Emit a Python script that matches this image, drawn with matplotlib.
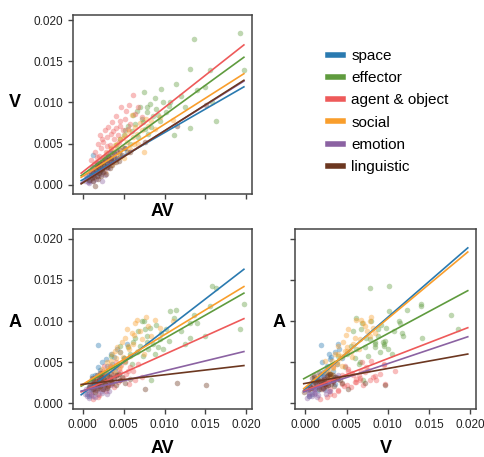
import numpy as np
import matplotlib.pyplot as plt
from matplotlib.lines import Line2D

plt.rcParams['font.family'] = ['Liberation Sans', 'DejaVu Sans']

categories = ['space', 'effector', 'agent & object', 'social', 'emotion', 'linguistic']
colors = ['#2a7ab0', '#5f9b3e', '#ee5a5a', '#f99e2c', '#8b62a2', '#6c3720']

# rows: [AV, V, A]
space = np.array([
    [0.0005, 0.0008, 0.0012], [0.0008, 0.0012, 0.0020], [0.0010, 0.0015, 0.0016],
    [0.0012, 0.0010, 0.0028], [0.0013, 0.0036, 0.0024], [0.0015, 0.0018, 0.0034],
    [0.0017, 0.0022, 0.0018], [0.0018, 0.0019, 0.0071], [0.0020, 0.0014, 0.0030],
    [0.0021, 0.0025, 0.0041], [0.0023, 0.0020, 0.0050], [0.0025, 0.0028, 0.0026],
    [0.0026, 0.0023, 0.0036], [0.0028, 0.0030, 0.0054], [0.0030, 0.0026, 0.0045],
    [0.0032, 0.0034, 0.0032], [0.0034, 0.0029, 0.0060], [0.0036, 0.0038, 0.0048],
    [0.0039, 0.0033, 0.0040], [0.0042, 0.0041, 0.0066], [0.0046, 0.0036, 0.0062],
    [0.0050, 0.0045, 0.0055], [0.0054, 0.0040, 0.0072], [0.0007, 0.0005, 0.0009],
    [0.0024, 0.0017, 0.0022], [0.0011, 0.0021, 0.0033], [0.0019, 0.0027, 0.0044],
    [0.0029, 0.0021, 0.0038], [0.0038, 0.0031, 0.0057], [0.0016, 0.0013, 0.0025],
])

effector = np.array([
    [0.0192, 0.0185, 0.0090], [0.0197, 0.0140, 0.0121], [0.0163, 0.0078, 0.0140],
    [0.0158, 0.0101, 0.0143], [0.0156, 0.0140, 0.0118], [0.0136, 0.0177, 0.0107],
    [0.0131, 0.0141, 0.0080], [0.0131, 0.0069, 0.0098], [0.0149, 0.0119, 0.0082],
    [0.0140, 0.0115, 0.0098], [0.0114, 0.0123, 0.0113], [0.0107, 0.0101, 0.0112],
    [0.0111, 0.0061, 0.0104], [0.0096, 0.0117, 0.0085], [0.0075, 0.0113, 0.0100],
    [0.0072, 0.0080, 0.0100], [0.0084, 0.0070, 0.0029], [0.0050, 0.0060, 0.0055],
    [0.0055, 0.0072, 0.0068], [0.0060, 0.0065, 0.0048], [0.0062, 0.0085, 0.0075],
    [0.0066, 0.0090, 0.0062], [0.0068, 0.0058, 0.0088], [0.0070, 0.0095, 0.0070],
    [0.0074, 0.0076, 0.0058], [0.0078, 0.0088, 0.0082], [0.0080, 0.0062, 0.0066],
    [0.0082, 0.0098, 0.0092], [0.0086, 0.0084, 0.0072], [0.0088, 0.0105, 0.0060],
    [0.0090, 0.0092, 0.0095], [0.0094, 0.0078, 0.0078], [0.0098, 0.0100, 0.0066],
    [0.0102, 0.0088, 0.0090], [0.0106, 0.0096, 0.0076], [0.0120, 0.0108, 0.0088],
    [0.0125, 0.0095, 0.0072], [0.0040, 0.0048, 0.0044], [0.0035, 0.0040, 0.0058],
    [0.0030, 0.0030, 0.0036], [0.0045, 0.0055, 0.0070], [0.0025, 0.0025, 0.0030],
    [0.0058, 0.0050, 0.0060], [0.0064, 0.0074, 0.0080], [0.0076, 0.0068, 0.0090],
    [0.0092, 0.0085, 0.0068], [0.0052, 0.0066, 0.0050], [0.0079, 0.0094, 0.0075],
])

agent = np.array([
    [0.0010, 0.0030, 0.0012], [0.0012, 0.0022, 0.0020], [0.0015, 0.0040, 0.0016],
    [0.0016, 0.0028, 0.0030], [0.0018, 0.0050, 0.0022], [0.0020, 0.0035, 0.0010],
    [0.0021, 0.0061, 0.0026], [0.0022, 0.0045, 0.0034], [0.0024, 0.0030, 0.0018],
    [0.0025, 0.0052, 0.0040], [0.0027, 0.0066, 0.0028], [0.0028, 0.0040, 0.0015],
    [0.0030, 0.0058, 0.0035], [0.0031, 0.0070, 0.0022], [0.0033, 0.0048, 0.0045],
    [0.0034, 0.0062, 0.0030], [0.0036, 0.0076, 0.0041], [0.0038, 0.0055, 0.0020],
    [0.0040, 0.0069, 0.0050], [0.0041, 0.0084, 0.0033], [0.0043, 0.0060, 0.0026],
    [0.0045, 0.0072, 0.0038], [0.0047, 0.0095, 0.0047], [0.0049, 0.0066, 0.0031],
    [0.0051, 0.0080, 0.0052], [0.0053, 0.0090, 0.0036], [0.0056, 0.0097, 0.0024],
    [0.0058, 0.0074, 0.0044], [0.0061, 0.0109, 0.0040], [0.0064, 0.0086, 0.0028],
    [0.0068, 0.0095, 0.0048], [0.0072, 0.0082, 0.0032], [0.0012, 0.0018, 0.0005],
    [0.0019, 0.0026, 0.0008], [0.0026, 0.0034, 0.0046], [0.0035, 0.0044, 0.0024],
    [0.0044, 0.0052, 0.0042], [0.0017, 0.0034, 0.0027], [0.0023, 0.0056, 0.0037],
    [0.0029, 0.0047, 0.0021], [0.0037, 0.0065, 0.0034], [0.0046, 0.0078, 0.0029],
    [0.0055, 0.0068, 0.0039], [0.0014, 0.0025, 0.0023],
])

social = np.array([
    [0.0015, 0.0018, 0.0022], [0.0018, 0.0025, 0.0030], [0.0020, 0.0020, 0.0018],
    [0.0022, 0.0030, 0.0035], [0.0024, 0.0026, 0.0042], [0.0026, 0.0034, 0.0028],
    [0.0028, 0.0022, 0.0038], [0.0030, 0.0038, 0.0050], [0.0032, 0.0030, 0.0033],
    [0.0034, 0.0045, 0.0046], [0.0036, 0.0036, 0.0060], [0.0038, 0.0028, 0.0040],
    [0.0040, 0.0042, 0.0055], [0.0042, 0.0050, 0.0068], [0.0044, 0.0038, 0.0048],
    [0.0046, 0.0055, 0.0062], [0.0048, 0.0046, 0.0075], [0.0050, 0.0032, 0.0052],
    [0.0052, 0.0060, 0.0080], [0.0054, 0.0052, 0.0091], [0.0056, 0.0065, 0.0066],
    [0.0058, 0.0044, 0.0058], [0.0060, 0.0085, 0.0085], [0.0062, 0.0058, 0.0072],
    [0.0064, 0.0070, 0.0098], [0.0066, 0.0062, 0.0101], [0.0068, 0.0050, 0.0064],
    [0.0070, 0.0075, 0.0088], [0.0072, 0.0066, 0.0078], [0.0075, 0.0040, 0.0060],
    [0.0077, 0.0080, 0.0105], [0.0080, 0.0072, 0.0094], [0.0084, 0.0078, 0.0082],
    [0.0088, 0.0068, 0.0101], [0.0095, 0.0082, 0.0092], [0.0110, 0.0079, 0.0100],
    [0.0027, 0.0016, 0.0024], [0.0035, 0.0024, 0.0052], [0.0045, 0.0034, 0.0044],
    [0.0055, 0.0040, 0.0070], [0.0039, 0.0048, 0.0064], [0.0049, 0.0057, 0.0056],
    [0.0031, 0.0033, 0.0043], [0.0063, 0.0049, 0.0083], [0.0041, 0.0031, 0.0036],
])

emotion = np.array([
    [0.0003, 0.0004, 0.0012], [0.0005, 0.0008, 0.0009], [0.0006, 0.0003, 0.0016],
    [0.0008, 0.0012, 0.0013], [0.0009, 0.0006, 0.0020], [0.0010, 0.0015, 0.0010],
    [0.0011, 0.0009, 0.0017], [0.0012, 0.0018, 0.0023], [0.0013, 0.0011, 0.0014],
    [0.0014, 0.0021, 0.0019], [0.0015, 0.0014, 0.0008], [0.0016, 0.0007, 0.0025],
    [0.0017, 0.0024, 0.0016], [0.0018, 0.0016, 0.0021], [0.0019, 0.0010, 0.0012],
    [0.0020, 0.0027, 0.0028], [0.0021, 0.0019, 0.0018], [0.0022, 0.0013, 0.0024],
    [0.0024, 0.0030, 0.0015], [0.0025, 0.0022, 0.0030], [0.0026, 0.0017, 0.0020],
    [0.0028, 0.0034, 0.0026], [0.0029, 0.0025, 0.0011], [0.0031, 0.0020, 0.0027],
    [0.0033, 0.0038, 0.0032], [0.0035, 0.0028, 0.0022], [0.0038, 0.0033, 0.0029],
    [0.0041, 0.0040, 0.0034], [0.0007, 0.0002, 0.0006], [0.0023, 0.0005, 0.0013],
    [0.0004, 0.0010, 0.0018], [0.0013, 0.0004, 0.0009], [0.0027, 0.0012, 0.0017],
    [0.0032, 0.0029, 0.0015], [0.0019, 0.0022, 0.0032], [0.0009, 0.0017, 0.0022],
])

linguistic = np.array([
    [0.0008, 0.0006, 0.0020], [0.0010, 0.0012, 0.0026], [0.0012, 0.0004, 0.0017],
    [0.0013, 0.0015, 0.0030], [0.0014, 0.0009, 0.0022], [0.0015, -0.0002, 0.0014],
    [0.0016, 0.0018, 0.0027], [0.0017, 0.0011, 0.0034], [0.0018, 0.0007, 0.0019],
    [0.0019, 0.0021, 0.0024], [0.0020, 0.0014, 0.0029], [0.0021, 0.0025, 0.0021],
    [0.0022, 0.0010, 0.0032], [0.0023, 0.0019, 0.0026], [0.0024, 0.0028, 0.0035],
    [0.0025, 0.0016, 0.0018], [0.0026, 0.0023, 0.0030], [0.0027, 0.0031, 0.0024],
    [0.0028, 0.0013, 0.0027], [0.0030, 0.0026, 0.0033], [0.0031, 0.0035, 0.0021],
    [0.0033, 0.0020, 0.0029], [0.0034, 0.0030, 0.0036], [0.0036, 0.0024, 0.0025],
    [0.0038, 0.0038, 0.0031], [0.0040, 0.0028, 0.0022], [0.0042, 0.0033, 0.0034],
    [0.0045, 0.0042, 0.0028], [0.0048, 0.0036, 0.0032], [0.0052, 0.0045, 0.0025],
    [0.0058, 0.0040, 0.0030], [0.0076, 0.0052, 0.0017], [0.0115, 0.0072, 0.0025],
    [0.0151, 0.0097, 0.0022], [0.0011, 0.0008, 0.0031], [0.0021, 0.0017, 0.0037],
    [0.0029, 0.0021, 0.0019], [0.0035, 0.0033, 0.0027], [0.0044, 0.0029, 0.0036],
    [0.0017, 0.0024, 0.0023],
])

groups = [space, effector, agent, social, emotion, linguistic]

# regression line ends, read at x = line_x[0] and line_x[1]
line_x = [-0.0002, 0.0197]
fit_v_av = [(0.0005, 0.0119), (0.0011, 0.0155), (0.0014, 0.0170),
            (0.0009, 0.0135), (0.0002, 0.0126), (0.0001, 0.0127)]
fit_a_av = [(0.00105, 0.0163), (0.0021, 0.0134), (0.0014, 0.0103),
            (0.0022, 0.0142), (0.0015, 0.0063), (0.0023, 0.0046)]
fit_a_v = [(0.0016, 0.0189), (0.0030, 0.0137), (0.0015, 0.0092),
           (0.0018, 0.0184), (0.0014, 0.0081), (0.0024, 0.0060)]

ticks = [0.0, 0.005, 0.010, 0.015, 0.020]
tick_labels = ['0.000', '0.005', '0.010', '0.015', '0.020']

fig = plt.figure(figsize=(4.84, 4.57), dpi=100)
ax1 = fig.add_axes([0.1508, 0.5755, 0.370, 0.3917])
ax2 = fig.add_axes([0.1508, 0.105, 0.370, 0.394])
ax3 = fig.add_axes([0.6105, 0.105, 0.373, 0.394])

panels = [(ax1, 0, 1, fit_v_av), (ax2, 0, 2, fit_a_av), (ax3, 1, 2, fit_a_v)]
for ax, xi, yi, fits in panels:
    for g, c in zip(groups, colors):
        ax.scatter(g[:, xi], g[:, yi], s=16, color=c, alpha=0.4, linewidths=0)
    for f, c in zip(fits, colors):
        ax.plot(line_x, f, color=c, lw=1.2)
    ax.set_xlim(-0.0012, 0.0207)
    ax.set_xticks(ticks)
    ax.set_yticks(ticks)
    for sp in ax.spines.values():
        sp.set_color('#444444')
        sp.set_linewidth(1.1)
    ax.tick_params(colors='#444444', labelcolor='#222222', labelsize=8.5,
                   length=3.5, width=1)

ax1.set_ylim(-0.00113, 0.02064)
ax2.set_ylim(-0.00068, 0.0212)
ax3.set_ylim(-0.00068, 0.0212)

ax1.set_xticklabels([])
ax1.set_yticklabels(tick_labels)
ax2.set_xticklabels(tick_labels)
ax2.set_yticklabels(tick_labels)
ax3.set_xticklabels(tick_labels)
ax3.set_yticklabels([])

lab = dict(fontsize=13, fontweight='bold', rotation=0, ha='center', va='center')
ax1.set_xlabel('AV', **lab)
ax1.set_ylabel('V', **lab)
ax2.set_xlabel('AV', **lab)
ax2.set_ylabel('A', **lab)
ax3.set_xlabel('V', **lab)
ax3.set_ylabel('A', **lab)
ax1.xaxis.set_label_coords(0.5, -0.10)
ax1.yaxis.set_label_coords(-0.324, 0.51)
ax2.xaxis.set_label_coords(0.5, -0.218)
ax2.yaxis.set_label_coords(-0.324, 0.48)
ax3.xaxis.set_label_coords(0.5, -0.218)
ax3.yaxis.set_label_coords(-0.0925, 0.48)

handles = [Line2D([0], [0], color=c, lw=4) for c in colors]
fig.legend(handles, categories, loc='upper left', bbox_to_anchor=(0.677, 0.893),
           frameon=False, fontsize=11, handlelength=1.0, handletextpad=0.55,
           labelspacing=0.54, borderpad=0, borderaxespad=0)

fig.savefig('out.png', dpi=100)
